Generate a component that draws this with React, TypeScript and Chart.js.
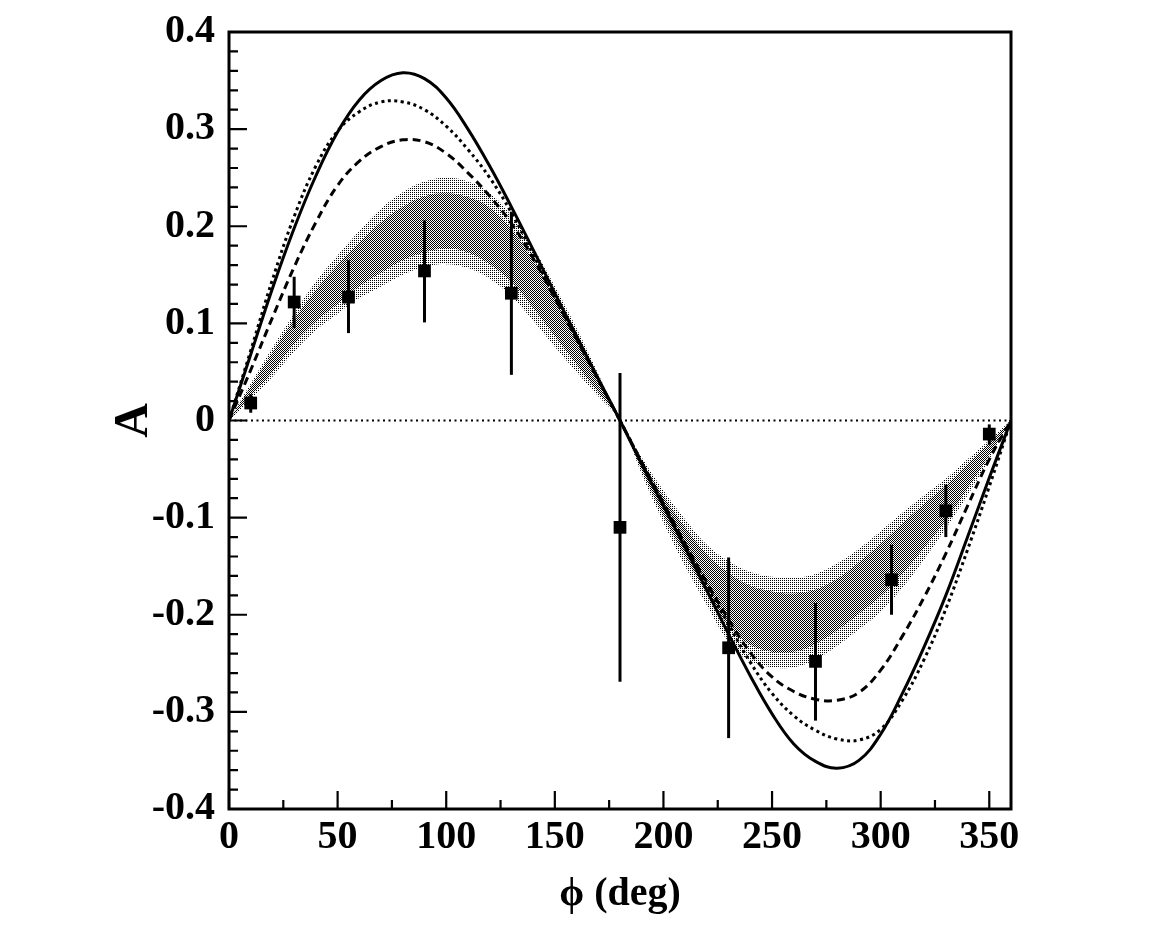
import { useEffect, useRef } from 'react';
import { Chart, registerables } from 'chart.js';

Chart.register(...registerables);

// Angle grid for the theory curves and the band (deg)
const phi = [0, 10, 20, 30, 40, 50, 60, 70, 80, 90, 100, 110, 120, 130, 140, 150, 160, 170, 180,
  190, 200, 210, 220, 230, 240, 250, 260, 270, 280, 290, 300, 310, 320, 330, 340, 350, 360];

// Solid curve
const solidCurve = [0, 0.068, 0.136, 0.198, 0.252, 0.297, 0.330, 0.350, 0.358, 0.352, 0.332, 0.300, 0.262,
  0.220, 0.176, 0.131, 0.087, 0.043, 0, -0.045, -0.088, -0.131, -0.175, -0.220, -0.263, -0.302, -0.333,
  -0.351, -0.358, -0.350, -0.323, -0.281, -0.233, -0.180, -0.120, -0.059, 0];

// Dotted curve
const dottedCurve = [0, 0.072, 0.145, 0.210, 0.262, 0.298, 0.318, 0.328, 0.328, 0.320, 0.303, 0.279, 0.250,
  0.214, 0.171, 0.127, 0.084, 0.042, 0, -0.043, -0.086, -0.128, -0.170, -0.210, -0.249, -0.281, -0.304,
  -0.319, -0.328, -0.329, -0.318, -0.288, -0.246, -0.194, -0.133, -0.068, 0];

// Dashed curve
const dashedCurve = [0, 0.052, 0.106, 0.158, 0.204, 0.242, 0.267, 0.282, 0.289, 0.287, 0.275, 0.255, 0.231,
  0.203, 0.167, 0.126, 0.084, 0.042, 0, -0.043, -0.085, -0.127, -0.167, -0.205, -0.239, -0.264, -0.279,
  -0.287, -0.288, -0.280, -0.257, -0.222, -0.182, -0.137, -0.088, -0.040, 0];

// Outer (light) band edges
const outerUpper = [0, 0.038, 0.075, 0.110, 0.143, 0.170, 0.195, 0.218, 0.235, 0.246, 0.250, 0.246, 0.234,
  0.211, 0.178, 0.138, 0.095, 0.048, 0, -0.038, -0.072, -0.102, -0.128, -0.145, -0.156, -0.161, -0.162,
  -0.158, -0.147, -0.132, -0.114, -0.095, -0.077, -0.060, -0.040, -0.020, 0];
const outerLower = [0, 0.022, 0.045, 0.071, 0.093, 0.110, 0.126, 0.138, 0.150, 0.158, 0.161, 0.157, 0.146,
  0.128, 0.103, 0.076, 0.050, 0.025, 0, -0.055, -0.105, -0.150, -0.190, -0.228, -0.248, -0.254, -0.254,
  -0.246, -0.232, -0.215, -0.197, -0.172, -0.143, -0.111, -0.077, -0.040, 0];

// Inner (dark) band edges
const innerUpper = [0, 0.035, 0.070, 0.104, 0.134, 0.160, 0.183, 0.204, 0.220, 0.231, 0.234, 0.230, 0.219,
  0.197, 0.165, 0.127, 0.087, 0.044, 0, -0.042, -0.078, -0.110, -0.138, -0.157, -0.170, -0.176, -0.178,
  -0.174, -0.163, -0.146, -0.127, -0.106, -0.086, -0.067, -0.045, -0.023, 0];
const innerLower = [0, 0.025, 0.050, 0.079, 0.102, 0.120, 0.138, 0.152, 0.165, 0.173, 0.177, 0.173, 0.161,
  0.143, 0.116, 0.087, 0.058, 0.029, 0, -0.051, -0.098, -0.140, -0.178, -0.211, -0.231, -0.238, -0.238,
  -0.230, -0.216, -0.199, -0.181, -0.158, -0.131, -0.103, -0.070, -0.036, 0];

// Measured points with error bar ends
const dataPhi = [10, 30, 55, 90, 130, 180, 230, 270, 305, 330, 350];
const dataA = [0.018, 0.122, 0.127, 0.154, 0.131, -0.110, -0.234, -0.248, -0.164, -0.093, -0.014];
const dataErrTop = [0.027, 0.148, 0.165, 0.206, 0.215, 0.049, -0.141, -0.188, -0.128, -0.066, -0.004];
const dataErrBottom = [0.008, 0.095, 0.090, 0.101, 0.047, -0.269, -0.327, -0.309, -0.200, -0.120, -0.025];

// Axis ticks
const xTickValues = [0, 50, 100, 150, 200, 250, 300, 350];
const xMinorTicks = [25, 75, 125, 175, 225, 275, 325];
const yTickValues = [-0.4, -0.3, -0.2, -0.1, 0, 0.1, 0.2, 0.3, 0.4];

const FONT = "'Liberation Serif', 'DejaVu Serif', 'Times New Roman', serif";

export default function App() {
  const ref = useRef<HTMLCanvasElement>(null);

  useEffect(() => {
    const canvas = ref.current as HTMLCanvasElement;
    const ctx = canvas.getContext('2d') as CanvasRenderingContext2D;

    const makePattern = (cells: number[][]) => {
      const pc = document.createElement('canvas');
      pc.width = 2;
      pc.height = 2;
      const g = pc.getContext('2d') as CanvasRenderingContext2D;
      g.fillStyle = '#000';
      for (const [x, y] of cells) g.fillRect(x, y, 1, 1);
      return ctx.createPattern(pc, 'repeat') as CanvasPattern;
    };
    const lightPattern = makePattern([[0, 0]]);
    const darkPattern = makePattern([[0, 0], [1, 1]]);

    const pts = (ys: number[]) => phi.map((x, i) => ({ x, y: ys[i] }));

    const yMinor: number[] = [];
    for (let k = -20; k <= 20; k++) {
      if (k % 5 !== 0) yMinor.push(k / 50);
    }

    const framePlugin = {
      id: 'frameTicks',
      afterDatasetsDraw(chart: any) {
        const c = chart.ctx as CanvasRenderingContext2D;
        const xs = chart.scales.x;
        const ys = chart.scales.y;
        c.save();
        c.strokeStyle = '#000';
        c.lineWidth = 3;
        c.lineCap = 'butt';
        dataPhi.forEach((p, i) => {
          const px = xs.getPixelForValue(p);
          c.beginPath();
          c.moveTo(px, ys.getPixelForValue(dataErrTop[i]));
          c.lineTo(px, ys.getPixelForValue(dataErrBottom[i]));
          c.stroke();
        });
        c.restore();
      },
      afterDraw(chart: any) {
        const c = chart.ctx as CanvasRenderingContext2D;
        const { left, right, top, bottom } = chart.chartArea;
        const xs = chart.scales.x;
        const ys = chart.scales.y;
        c.save();
        c.strokeStyle = '#000';
        c.lineWidth = 2.2;
        c.beginPath();
        for (const v of xTickValues) {
          const px = xs.getPixelForValue(v);
          c.moveTo(px, bottom);
          c.lineTo(px, bottom - 18);
        }
        for (const v of xMinorTicks) {
          const px = xs.getPixelForValue(v);
          c.moveTo(px, bottom);
          c.lineTo(px, bottom - 9);
        }
        for (const v of yTickValues) {
          const py = ys.getPixelForValue(v);
          c.moveTo(left, py);
          c.lineTo(left + 18, py);
        }
        for (const v of yMinor) {
          const py = ys.getPixelForValue(v);
          c.moveTo(left, py);
          c.lineTo(left + 9, py);
        }
        c.stroke();
        c.lineWidth = 3;
        c.strokeRect(left, top, right - left, bottom - top);
        c.restore();
      },
    };

    const curveBase = {
      pointRadius: 0,
      fill: false,
      tension: 0.4,
      borderColor: '#000',
      borderWidth: 3,
      borderCapStyle: 'butt' as const,
    };
    const bandBase = {
      pointRadius: 0,
      borderWidth: 0,
      borderColor: 'rgba(0,0,0,0)',
      tension: 0.4,
    };

    const chart = new Chart(canvas, {
      type: 'line',
      data: {
        datasets: [
          {
            label: 'data',
            data: dataPhi.map((x, i) => ({ x, y: dataA[i] })),
            showLine: false,
            pointStyle: 'rect',
            pointRadius: 9,
            pointBorderWidth: 0,
            pointBackgroundColor: '#000',
            borderColor: '#000',
            backgroundColor: '#000',
            order: 0,
          },
          { ...curveBase, label: 'solid', data: pts(solidCurve), order: 1 },
          { ...curveBase, label: 'dotted', data: pts(dottedCurve), borderDash: [3, 3.5], order: 2 },
          { ...curveBase, label: 'dashed', data: pts(dashedCurve), borderDash: [8, 5], order: 3 },
          {
            label: 'zero',
            data: [{ x: 0, y: 0 }, { x: 360, y: 0 }],
            pointRadius: 0,
            borderColor: '#000',
            borderWidth: 2,
            borderDash: [2, 3.5],
            fill: false,
            order: 4,
          },
          { ...bandBase, label: 'innerUpper', data: pts(innerUpper), backgroundColor: darkPattern, fill: '+1', order: 5 },
          { ...bandBase, label: 'innerLower', data: pts(innerLower), fill: false, order: 6 },
          { ...bandBase, label: 'outerUpper', data: pts(outerUpper), backgroundColor: lightPattern, fill: '+1', order: 7 },
          { ...bandBase, label: 'outerLower', data: pts(outerLower), fill: false, order: 8 },
        ],
      },
      options: {
        responsive: false,
        animation: false,
        events: [],
        layout: { padding: { top: 24, right: 139, bottom: 0, left: 0 } },
        plugins: {
          legend: { display: false },
          tooltip: { enabled: false },
        },
        scales: {
          x: {
            type: 'linear',
            position: 'bottom',
            min: 0,
            max: 360,
            afterBuildTicks: (s: any) => {
              s.ticks = xTickValues.map((v) => ({ value: v }));
            },
            afterFit: (s: any) => {
              s.height = 115;
            },
            grid: { display: false, drawTicks: true, tickLength: 5 },
            border: { display: false },
            ticks: {
              color: '#000',
              padding: 0,
              maxRotation: 0,
              autoSkip: false,
              font: { family: FONT, size: 40, weight: 'bold' },
              callback: (v: any) => String(v),
            },
            title: {
              display: true,
              text: 'ϕ (deg)',
              color: '#000',
              padding: { top: 0, bottom: 5 },
              font: { family: FONT, size: 40, weight: 'bold' },
            },
          },
          y: {
            type: 'linear',
            min: -0.4,
            max: 0.4,
            afterBuildTicks: (s: any) => {
              s.ticks = yTickValues.map((v) => ({ value: v }));
            },
            afterFit: (s: any) => {
              s.width = 221;
            },
            grid: { display: false, drawTicks: true, tickLength: 14 },
            border: { display: false },
            ticks: {
              color: '#000',
              padding: 0,
              autoSkip: false,
              font: { family: FONT, size: 40, weight: 'bold' },
              callback: (v: any) => (Math.abs(v) < 1e-9 ? '0' : Number(v).toFixed(1)),
            },
            title: {
              display: true,
              text: 'A',
              color: '#000',
              padding: { top: 98, bottom: 0 },
              font: { family: FONT, size: 48, weight: 'bold' },
            },
          },
        },
      },
      plugins: [framePlugin],
    } as any);

    return () => chart.destroy();
  }, []);

  return (
    <div style={{ width: 1142, height: 916 }}>
      <canvas ref={ref} width={1142} height={916} style={{ display: 'block', width: 1142, height: 916 }} />
    </div>
  );
}
